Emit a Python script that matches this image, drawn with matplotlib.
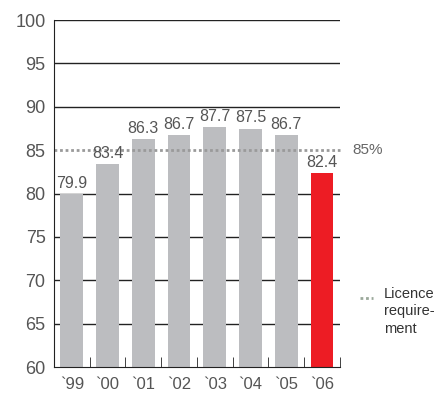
import matplotlib.pyplot as plt

years = ["`99", "`00", "`01", "`02", "`03", "`04", "`05", "`06"]
values = [79.9, 83.4, 86.3, 86.7, 87.7, 87.5, 86.7, 82.4]
colors = ["#bcbdc0"] * 7 + ["#ed1c24"]
licence = 85

plt.rcParams["font.family"] = ["Liberation Sans", "DejaVu Sans"]

fig = plt.figure(figsize=(4.42, 3.96), dpi=100)
ax = fig.add_axes([0.122, 0.0732, 0.647, 0.876])

x = range(len(years))
for y in [65, 70, 75, 80, 90, 95, 100]:
    ax.axhline(y, color="#222222", lw=1, zorder=1)
ax.bar(x, values, width=0.64, color=colors, zorder=2)
for i, v in enumerate(values):
    ax.text(i, v + 0.35, f"{v:.1f}", ha="center", va="bottom", fontsize=11.5, color="#555555", zorder=3)

ax.plot([-0.5, 7.5], [licence, licence], color="#9a9a9a", lw=2, ls=(0, (1, 1)), zorder=2.5, clip_on=False)
ax.text(7.85, licence, "85%", fontsize=11, color="#666666", va="center", ha="left")

ax.set_xlim(-0.5, 7.5)
ax.set_ylim(60, 100)
ax.set_yticks(range(60, 101, 5))
ax.set_xticks(list(x))
ax.set_xticklabels(years)
ax.set_xticks([i + 0.5 for i in range(8)], minor=True)
ax.tick_params(axis="x", which="major", length=0, pad=7, labelsize=12, labelcolor="#555555")
ax.tick_params(axis="x", which="minor", direction="in", length=7, color="#222222")
ax.tick_params(axis="y", length=0, pad=6, labelsize=13, labelcolor="#555555")
for s in ["top", "right"]:
    ax.spines[s].set_visible(False)
for s in ["left", "bottom"]:
    ax.spines[s].set_color("#222222")

# legend
fig.add_artist(plt.Line2D([0.815, 0.845], [0.248, 0.248], color="#9aa89a", lw=2, ls=(0, (1, 1))))
fig.text(0.868, 0.275, "Licence\nrequire-\nment", fontsize=10.5, color="#333333", va="top", ha="left",
         linespacing=1.3)

fig.savefig("out.png", dpi=100)
